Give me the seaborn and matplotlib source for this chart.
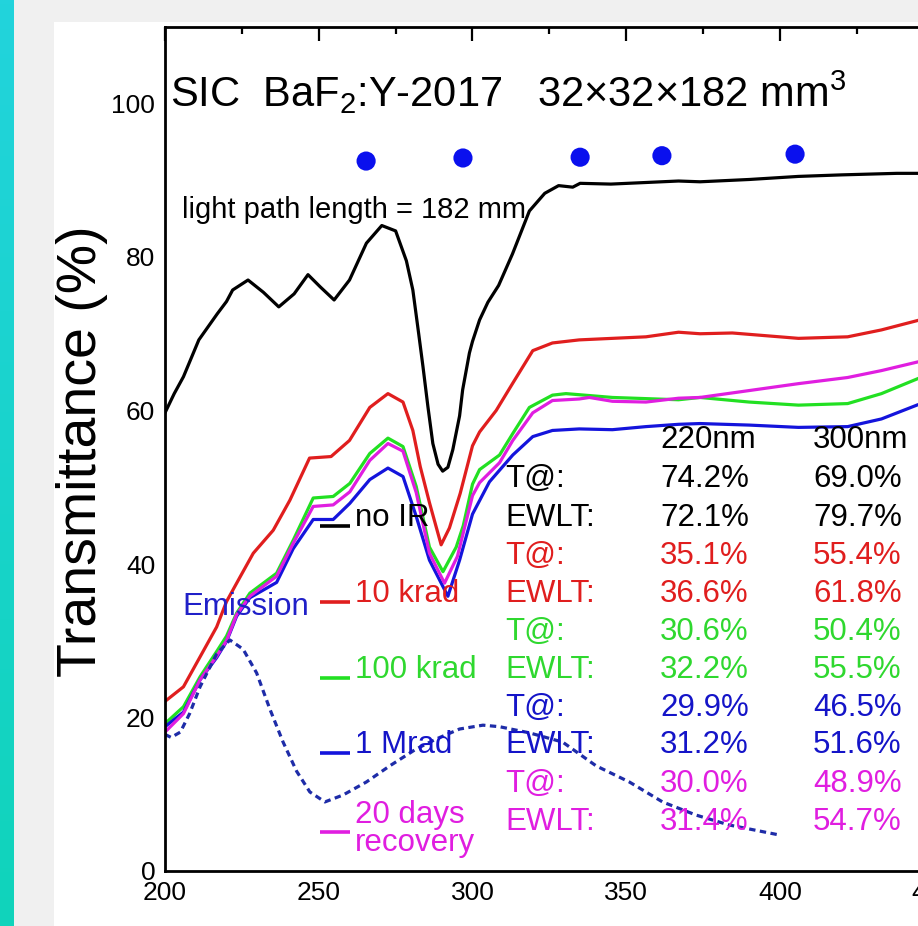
import numpy as np
import pandas as pd
import matplotlib
matplotlib.use("Agg")
import matplotlib.pyplot as plt
import seaborn as sns
from matplotlib.ticker import MultipleLocator
from matplotlib.patches import Rectangle
from matplotlib.colors import LinearSegmentedColormap

# ---------------- data ----------------
noir_nm = [200, 203, 206, 211, 217, 220, 222, 227, 232, 237, 242, 246.5, 250.5, 255, 260,
           265.5, 270.5, 275, 278.5, 280.6, 282.5, 283.9, 285.5, 287.1, 288.8, 290.3, 292,
           293.6, 295.8, 296.8, 299, 300, 302.3, 305, 308.5, 313, 318.5, 323.5, 328, 332.6,
           335, 345, 356, 367, 374, 390, 406, 420, 438, 450]
noir_T = [59.7, 62.2, 64.4, 69.2, 72.6, 74.2, 75.7, 77.0, 75.4, 73.5, 75.2, 77.7, 76.1, 74.4, 77.0,
          81.8, 84.1, 83.4, 79.5, 75.7, 70.0, 65.7, 60.5, 55.7, 53.0, 52.1, 52.6,
          54.9, 59.3, 62.7, 67.5, 69.0, 71.8, 74.1, 76.3, 80.4, 86.0, 88.3, 89.3, 89.1,
          89.6, 89.5, 89.7, 89.9, 89.8, 90.1, 90.5, 90.7, 90.9, 90.9]

k10_nm = [200, 206, 211.4, 216.8, 220, 224.4, 228.7, 235.2, 240.6, 247, 254, 260, 266.6, 272.5,
          277.4, 280.6, 283, 286, 289.8, 292.5, 296, 300, 302.3, 307.7, 313, 319.6, 326, 334.7,
          345.5, 356.4, 367, 374, 384.5, 406, 422, 433, 444.5, 450]
k10_T = [22.1, 24.0, 27.9, 31.8, 35.1, 38.3, 41.4, 44.4, 48.3, 53.8, 54.0, 56.1, 60.4, 62.2,
         61.1, 57.4, 52.7, 48.0, 42.5, 44.7, 49.2, 55.4, 57.2, 60.0, 63.5, 67.8, 68.8, 69.2,
         69.4, 69.6, 70.2, 70.0, 70.1, 69.4, 69.6, 70.5, 71.7, 72.3]

k100_nm = [200, 206, 211.4, 216.8, 220, 223.3, 227.6, 236.3, 241.7, 248.2, 254.7, 260.1, 266.6,
           272.5, 277.4, 281.7, 286, 290.4, 294.7, 297, 300, 302.3, 308.8, 313.1, 318.5, 326,
           330.4, 345.5, 367, 374, 390, 406, 422, 433, 444.5, 450]
k100_T = [19.2, 21.4, 25.3, 28.6, 30.6, 33.6, 36.2, 38.8, 43.1, 48.6, 48.8, 50.5, 54.4,
          56.4, 55.3, 50.1, 42.2, 39.0, 42.2, 45.0, 50.4, 52.3, 54.2, 57.0, 60.4, 62.0,
          62.2, 61.7, 61.4, 61.7, 61.1, 60.7, 60.9, 62.2, 64.1, 65.0]

m1_nm = [200, 206, 211.4, 216.8, 220, 223.3, 227.6, 236.3, 241.7, 248.2, 254.7, 260.1, 266.6,
         272.5, 277.4, 281.7, 286, 292, 295.8, 300, 305.5, 313.1, 319.6, 326, 334.7, 345.5,
         356.4, 367, 374, 390, 406, 422, 433, 444.5, 450]
m1_T = [18.8, 20.7, 24.9, 27.8, 29.9, 33.2, 35.6, 37.6, 42.0, 45.8, 45.8, 47.9, 51.0,
        52.5, 51.4, 46.2, 40.5, 35.8, 40.5, 46.5, 50.7, 54.2, 56.6, 57.4, 57.6, 57.5,
        57.9, 58.2, 58.3, 58.1, 57.8, 57.9, 58.9, 60.7, 61.5]

rec_nm = [200, 206, 211.4, 216.8, 220, 223.3, 227.6, 236.3, 241.7, 248.2, 254.7, 260.1, 266.6,
          272.5, 277.4, 281.7, 286, 290.9, 295.1, 300, 302.3, 308.8, 313.1, 319.6, 326, 334.7,
          338, 345.5, 356.4, 367, 374, 390, 406, 422, 433, 444.5, 450]
rec_T = [18.1, 20.5, 24.9, 28.0, 30.0, 33.4, 35.8, 38.4, 42.7, 47.5, 47.7, 49.4, 53.5,
         55.7, 54.7, 49.3, 41.4, 37.5, 41.0, 48.9, 50.6, 53.2, 56.1, 59.7, 61.3, 61.5,
         61.7, 61.2, 61.1, 61.6, 61.7, 62.6, 63.5, 64.3, 65.2, 66.3, 66.8]

emis_nm = [200, 202, 205, 208, 211.4, 216.8, 221.1, 225.4, 229.8, 234.1, 238.4, 242.8, 247.1,
           252, 257.9, 265.5, 273.1, 281.7, 288.2, 295.8, 303.4, 308.8, 318.5, 329.3, 340.2,
           351, 361.8, 372.6, 383.4, 399.7]
emis_T = [17.8, 17.4, 18.1, 20.5, 24.0, 28.3, 30.1, 28.9, 25.8, 21.1, 16.8, 13.0, 10.3,
          9.0, 9.9, 11.6, 13.7, 15.9, 17.2, 18.5, 19.0, 18.8, 18.0, 16.8, 13.7,
          11.6, 9.0, 7.3, 6.0, 4.7]

dot_nm = [265.4, 296.9, 335.0, 361.6, 404.9]
dot_T = [92.5, 92.9, 93.0, 93.2, 93.4]

series_names = ["no IR", "10 krad", "100 krad", "1 Mrad", "20 days recovery"]
series_colors = ["#000000", "#e01e1e", "#22e022", "#1414dc", "#e01ee0"]
text_colors = ["#000000", "#e01e1e", "#2fd82f", "#1414c8", "#e01ee0"]
wave_labels = ["220nm", "300nm"]
t_220 = [74.2, 35.1, 30.6, 29.9, 30.0]
t_300 = [69.0, 55.4, 50.4, 46.5, 48.9]
ewlt_220 = [72.1, 36.6, 32.2, 31.2, 31.4]
ewlt_300 = [79.7, 61.8, 55.5, 51.6, 54.7]

curves = pd.concat([
    pd.DataFrame({"nm": noir_nm, "T": noir_T, "series": "no IR"}),
    pd.DataFrame({"nm": k10_nm, "T": k10_T, "series": "10 krad"}),
    pd.DataFrame({"nm": k100_nm, "T": k100_T, "series": "100 krad"}),
    pd.DataFrame({"nm": m1_nm, "T": m1_T, "series": "1 Mrad"}),
    pd.DataFrame({"nm": rec_nm, "T": rec_T, "series": "20 days recovery"}),
], ignore_index=True)
emission = pd.DataFrame({"nm": emis_nm, "T": emis_T})
dots = pd.DataFrame({"nm": dot_nm, "T": dot_T})

# ---------------- style ----------------
sns.set_theme(style="white")
plt.rcParams["font.family"] = ["Liberation Sans", "DejaVu Sans"]
plt.rcParams["mathtext.fontset"] = "custom"
plt.rcParams["mathtext.rm"] = "Liberation Sans"
plt.rcParams["mathtext.it"] = "Liberation Sans"

W, H = 918, 926
fig = plt.figure(figsize=(W / 100, H / 100), dpi=100)
fig.patch.set_facecolor("#f0f0f0")

# white page panel
fig.add_artist(Rectangle((54 / W, 0), 1 - 54 / W, (H - 22) / H, transform=fig.transFigure,
                         facecolor="white", edgecolor="none", zorder=0))
# teal side strip
strip = fig.add_axes([0, 0, 14 / W, 1])
strip.imshow(np.linspace(0, 1, 256)[:, None], aspect="auto",
             cmap=LinearSegmentedColormap.from_list("strip", ["#22d3dc", "#10d4bb"]),
             extent=[0, 1, 0, 1], origin="upper")
strip.axis("off")

# plotting axes: 3.075 px per nm, 7.675 px per % ; extends past the right page edge
x0, y0 = 165, 871
ax = fig.add_axes([x0 / W, (H - y0) / H, 600 * 3.075 / W, 110 * 7.675 / H])
ax.set_facecolor("white")

sns.lineplot(data=curves, x="nm", y="T", hue="series", hue_order=series_names,
             palette=dict(zip(series_names, series_colors)), sort=False, estimator=None,
             lw=2.3, legend=False, ax=ax, solid_joinstyle="round")
sns.lineplot(data=emission, x="nm", y="T", color="#1e2ca8", lw=2.3, sort=False,
             estimator=None, linestyle=(0, (2.0, 1.4)), legend=False, ax=ax)
sns.scatterplot(data=dots, x="nm", y="T", color="#0a10ee", s=190, edgecolor="none",
                legend=False, ax=ax, zorder=5)

ax.set_xlim(200, 800)
ax.set_ylim(0, 110)
ax.xaxis.set_major_locator(MultipleLocator(50))
ax.xaxis.set_minor_locator(MultipleLocator(25))
ax.yaxis.set_major_locator(MultipleLocator(20))
ax.yaxis.set_minor_locator(MultipleLocator(5))
ax.tick_params(which="both", direction="in", top=True, right=True, width=1.6, color="black")
ax.tick_params(which="major", length=10, labelsize=19, pad=7, labelcolor="black")
ax.tick_params(which="minor", length=5)
for sp in ax.spines.values():
    sp.set_color("black")
    sp.set_linewidth(2.0)
ax.grid(False)

ax.set_ylabel("Transmittance (%)", fontsize=40, color="black", va="center", ha="center")
ax.yaxis.set_label_coords((82 - x0) / (600 * 3.075), (y0 - 451) / (110 * 7.675))
ax.set_xlabel("Wavelength (nm)", fontsize=40, color="black", va="top", ha="center")
ax.xaxis.set_label_coords((527 - x0) / (600 * 3.075), (y0 - 928) / (110 * 7.675))

# header texts
ax.text(201.6, 99.5, r"SIC  BaF$_2$:Y-2017   32×32×182 mm$^3$", fontsize=30,
        color="black", va="baseline", ha="left")
ax.text(205.5, 85.1, "light path length = 182 mm", fontsize=21, color="black",
        va="baseline", ha="left")
ax.text(205.5, 33.4, "Emission", fontsize=22.5, color="#2020c8", va="baseline", ha="left")

# series key: short line + name
key_y = [44.95, 35.05, 25.15, 15.4, 5.1]
for name, col, tcol, y in zip(series_names, series_colors, text_colors, key_y):
    ax.plot([250.4, 260.2], [y, y], color=col, lw=2.6, solid_capstyle="butt")
    if name == "20 days recovery":
        ax.text(261.8, 6.25, "20 days", fontsize=22.5, color=tcol, va="baseline", ha="left")
        ax.text(261.8, 2.6, "recovery", fontsize=22.5, color=tcol, va="baseline", ha="left")
    else:
        ax.text(261.8, y, name, fontsize=22.5, color=tcol, va="baseline", ha="left")

# transmittance / EWLT table
col_x = [361.0, 410.7]
for lab, cx in zip(wave_labels, col_x):
    ax.text(cx, 55.1, lab, fontsize=22.5, color="black", va="baseline", ha="left")
row_y = [50.0, 44.95, 40.0, 35.05, 30.1, 25.15, 20.2, 15.4, 10.3, 5.3]
for i, tcol in enumerate(text_colors):
    yt, ye = row_y[2 * i], row_y[2 * i + 1]
    ax.text(310.6, yt, "T@:", fontsize=22.5, color=tcol, va="baseline", ha="left")
    ax.text(col_x[0], yt, f"{t_220[i]:.1f}%", fontsize=22.5, color=tcol, va="baseline", ha="left")
    ax.text(col_x[1], yt, f"{t_300[i]:.1f}%", fontsize=22.5, color=tcol, va="baseline", ha="left")
    ax.text(310.6, ye, "EWLT:", fontsize=22.5, color=tcol, va="baseline", ha="left")
    ax.text(col_x[0], ye, f"{ewlt_220[i]:.1f}%", fontsize=22.5, color=tcol, va="baseline", ha="left")
    ax.text(col_x[1], ye, f"{ewlt_300[i]:.1f}%", fontsize=22.5, color=tcol, va="baseline", ha="left")

fig.savefig("out.png", dpi=100, facecolor=fig.get_facecolor())
